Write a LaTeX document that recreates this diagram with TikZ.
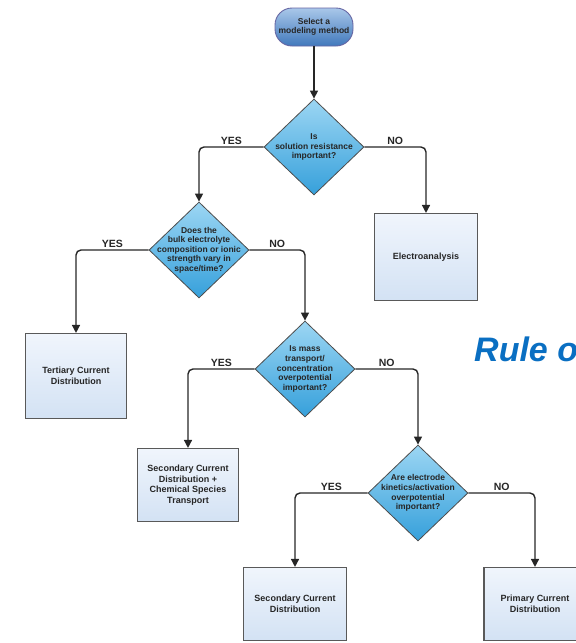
\documentclass[tikz,border=0pt]{standalone}
\usepackage{fontspec}
\newfontfamily\chartfont{Liberation Sans}
\usetikzlibrary{shapes.geometric,arrows.meta}
\definecolor{qtop}{HTML}{9CD6F3}
\definecolor{qbottom}{HTML}{36A0DB}
\definecolor{boxtop}{HTML}{F0F5FC}
\definecolor{boxbottom}{HTML}{D3E2F4}
\definecolor{starttop}{HTML}{A9C7E9}
\definecolor{startbottom}{HTML}{4179BC}
\definecolor{ruleblue}{HTML}{0A6FC2}

\begin{document}
\begin{tikzpicture}[
  x=1pt, y=-1pt,
  decision/.style={diamond, draw=black!70, line width=0.8pt, top color=qtop,
    bottom color=qbottom, minimum width=100pt, minimum height=96pt, inner sep=0pt},
  qtext/.style={font=\chartfont\bfseries\fontsize{8.5}{9.6}\selectfont,
    align=center, inner sep=0pt, text=black!85},
  result/.style={rectangle, draw=black!65, line width=1.1pt, top color=boxtop,
    bottom color=boxbottom, minimum width=102pt, minimum height=74pt,
    font=\chartfont\bfseries\fontsize{9}{10.5}\selectfont, align=center,
    text=black!85},
  answer/.style={font=\chartfont\bfseries\fontsize{10.5}{12}\selectfont,
    above, inner sep=1.5pt, text=black!85},
  flow/.style={->, line width=1.4pt, draw=black!85, rounded corners=5pt},
  >={Triangle[width=8pt,length=8pt]}
]
\clip (0,0) rectangle (576,643);

% Start of the chart
\node[draw=black!60!blue!60, line width=0.9pt, rounded corners=17pt,
  top color=starttop, bottom color=startbottom, minimum width=78pt,
  minimum height=38pt, inner sep=0pt, align=center, text=black!85,
  font=\chartfont\bfseries\fontsize{8.5}{9.6}\selectfont] (start) at (314,27)
  {Select a\\modeling method};

% Questions
\node[decision, label={[qtext]center:{Is\\solution resistance\\important?}}]
  (res) at (314,147) {};
\node[decision, label={[qtext]center:{Does the\\bulk electrolyte\\composition or ionic\\strength vary in\\space/time?}}]
  (bulk) at (199,250) {};
\node[decision, label={[qtext]center:{Is mass\\transport/\\concentration\\overpotential\\important?}}]
  (mass) at (305,369) {};
\node[decision, label={[qtext]center:{Are electrode\\kinetics/activation\\overpotential\\important?}}]
  (kin) at (418,493) {};

% Outcomes
\node[result, minimum width=103pt, minimum height=87pt] (electro) at (426,257)
  {Electroanalysis};
\node[result, minimum width=101pt, minimum height=85pt] (tert) at (76,376)
  {Tertiary Current\\Distribution};
\node[result, minimum width=101pt, minimum height=73pt] (secchem) at (188,485)
  {Secondary Current\\Distribution +\\Chemical Species\\Transport};
\node[result, minimum width=103pt, minimum height=73pt] (sec) at (295,604)
  {Secondary Current\\Distribution};
\node[result, minimum width=102pt, minimum height=73pt] (prim) at (535,604)
  {Primary Current\\Distribution};

% Slide title, cut at the edge
\node[anchor=base west, inner sep=0pt, text=ruleblue,
  font=\chartfont\bfseries\itshape\fontsize{34}{38}\selectfont] (rule) at (474,361)
  {Rule o};

% Connectors
\draw[flow] (start) -- (res);
\draw[flow] (res.west) -| node[answer, pos=0.25] {YES} (bulk.north);
\draw[flow] (res.east) -| node[answer, pos=0.25] {NO} (electro.north);
\draw[flow] (bulk.west) -| node[answer, pos=0.25] {YES} (tert.north);
\draw[flow] (bulk.east) -| node[answer, pos=0.25] {NO} (mass.north);
\draw[flow] (mass.west) -| node[answer, pos=0.25] {YES} (secchem.north);
\draw[flow] (mass.east) -| node[answer, pos=0.25] {NO} (kin.north);
\draw[flow] (kin.west) -| node[answer, pos=0.25] {YES} (sec.north);
\draw[flow] (kin.east) -| node[answer, pos=0.25] {NO} (prim.north);

\end{tikzpicture}
\end{document}
